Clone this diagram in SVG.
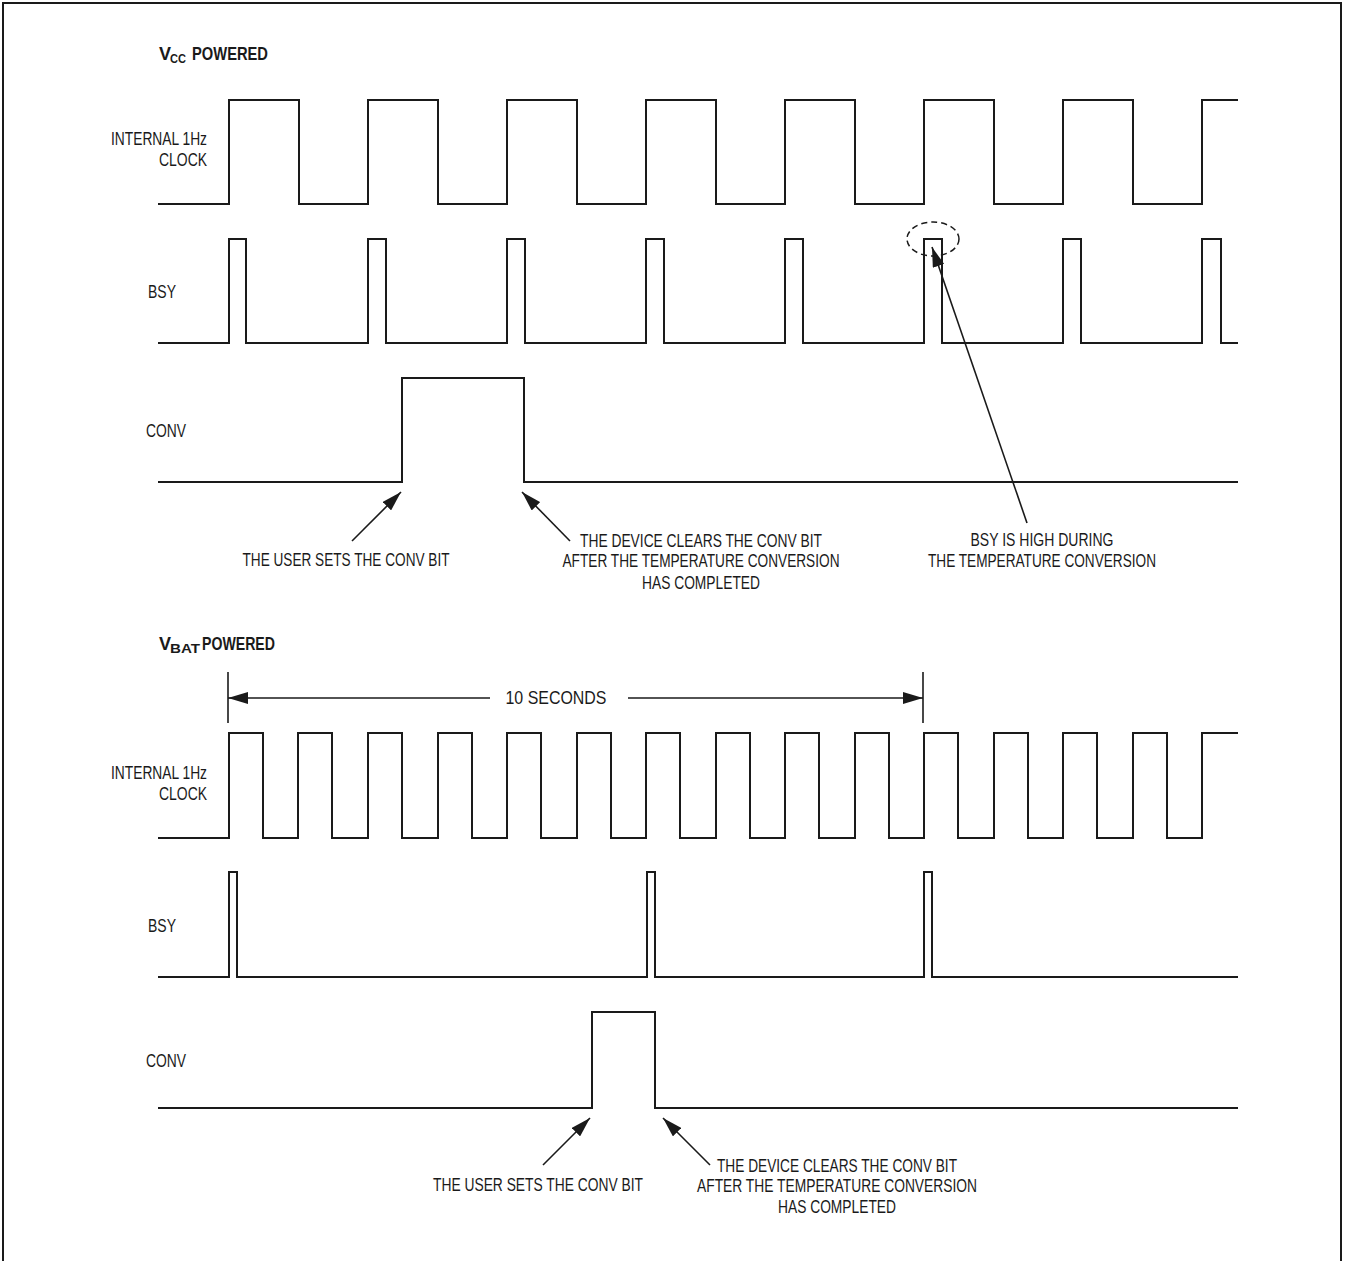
<svg xmlns="http://www.w3.org/2000/svg" width="1346" height="1261" viewBox="0 0 1346 1261">
<style>
.w{fill:none;stroke:#1a1a1a;stroke-width:2;stroke-linejoin:miter}
.t{font-family:"Liberation Sans",Arial,sans-serif;font-size:19px;fill:#1a1a1a}
.b{font-family:"Liberation Sans",Arial,sans-serif;font-weight:bold;fill:#1a1a1a}
.a{fill:none;stroke:#1a1a1a;stroke-width:1.6}
.c{text-anchor:middle}
</style>
<defs>
<marker id="ah" viewBox="0 0 20 12" refX="20" refY="6" markerWidth="20" markerHeight="12" markerUnits="userSpaceOnUse" orient="auto-start-reverse">
<path d="M0,0 L20,6 L0,12 z" fill="#1a1a1a"/>
</marker>
</defs>
<rect x="3" y="3" width="1338" height="1280" fill="#fff" stroke="#1a1a1a" stroke-width="2"/>

<g id="vcc-section">
<text class="b" y="60"><tspan x="159" font-size="18">V</tspan><tspan x="170" y="63" font-size="12.5" textLength="16" lengthAdjust="spacingAndGlyphs">CC</tspan><tspan x="192" y="60" font-size="18" textLength="76" lengthAdjust="spacingAndGlyphs">POWERED</tspan></text>

<g id="vcc-clock">
<text class="t" x="111" y="145" textLength="96" lengthAdjust="spacingAndGlyphs">INTERNAL 1Hz</text>
<text class="t" x="159" y="166" textLength="48" lengthAdjust="spacingAndGlyphs">CLOCK</text>
<path class="w" d="M158,204 H229 V100 H299 V204 H368 V100 H438 V204 H507 V100 H577 V204 H646 V100 H716 V204 H785 V100 H855 V204 H924 V100 H994 V204 H1063 V100 H1133 V204 H1202 V100 H1238"/>
</g>
<g id="vcc-bsy">
<text class="t" x="148" y="298" textLength="28" lengthAdjust="spacingAndGlyphs">BSY</text>
<path class="w" d="M158,343 H229 V239 H246 V343 H368 V239 H386 V343 H507 V239 H525 V343 H646 V239 H664 V343 H785 V239 H803 V343 H924 V239 H942 V343 H1063 V239 H1081 V343 H1202 V239 H1221 V343 H1238"/>
</g>
<g id="vcc-conv">
<text class="t" x="146" y="437" textLength="40" lengthAdjust="spacingAndGlyphs">CONV</text>
<path class="w" d="M158,482 H402 V378 H524 V482 H1238"/>
</g>
<g id="vcc-notes">
<text class="t c" x="346" y="566" textLength="207" lengthAdjust="spacingAndGlyphs">THE USER SETS THE CONV BIT</text>
<text class="t c" x="701" y="547" textLength="242" lengthAdjust="spacingAndGlyphs">THE DEVICE CLEARS THE CONV BIT</text>
<text class="t c" x="701" y="567" textLength="277" lengthAdjust="spacingAndGlyphs">AFTER THE TEMPERATURE CONVERSION</text>
<text class="t c" x="701" y="589" textLength="118" lengthAdjust="spacingAndGlyphs">HAS COMPLETED</text>
<text class="t c" x="1042" y="546" textLength="143" lengthAdjust="spacingAndGlyphs">BSY IS HIGH DURING</text>
<text class="t c" x="1042" y="567" textLength="228" lengthAdjust="spacingAndGlyphs">THE TEMPERATURE CONVERSION</text>
<ellipse cx="933" cy="239" rx="26" ry="17" fill="none" stroke="#1a1a1a" stroke-width="1.5" stroke-dasharray="6 4"/>
</g>
</g>

<g id="vbat-section">
<text class="b" y="650"><tspan x="159" font-size="18">V</tspan><tspan x="170" y="653" font-size="12.5" textLength="30" lengthAdjust="spacingAndGlyphs">BAT</tspan><tspan x="202" y="650" font-size="18" textLength="73" lengthAdjust="spacingAndGlyphs">POWERED</tspan></text>

<g id="vbat-dimension">
<line class="a" x1="228" y1="672" x2="228" y2="723"/>
<line class="a" x1="923" y1="672" x2="923" y2="723"/>
<text class="t c" x="556" y="704" textLength="101" lengthAdjust="spacingAndGlyphs">10 SECONDS</text>
</g>
<g id="vbat-clock">
<text class="t" x="111" y="779" textLength="96" lengthAdjust="spacingAndGlyphs">INTERNAL 1Hz</text>
<text class="t" x="159" y="800" textLength="48" lengthAdjust="spacingAndGlyphs">CLOCK</text>
<path class="w" d="M158,838 H229 V733 H263 V838 H298 V733 H332 V838 H368 V733 H402 V838 H438 V733 H472 V838 H507 V733 H541 V838 H577 V733 H611 V838 H646 V733 H680 V838 H716 V733 H750 V838 H785 V733 H819 V838 H855 V733 H889 V838 H924 V733 H958 V838 H994 V733 H1028 V838 H1063 V733 H1097 V838 H1133 V733 H1167 V838 H1202 V733 H1238"/>
</g>
<g id="vbat-bsy">
<text class="t" x="148" y="932" textLength="28" lengthAdjust="spacingAndGlyphs">BSY</text>
<path class="w" d="M158,977 H229 V872 H237 V977 H647 V872 H655 V977 H924 V872 H932 V977 H1238"/>
</g>
<g id="vbat-conv">
<text class="t" x="146" y="1067" textLength="40" lengthAdjust="spacingAndGlyphs">CONV</text>
<path class="w" d="M158,1108 H592 V1012 H655 V1108 H1238"/>
</g>
<g id="vbat-notes">
<text class="t c" x="538" y="1191" textLength="210" lengthAdjust="spacingAndGlyphs">THE USER SETS THE CONV BIT</text>
<text class="t c" x="837" y="1172" textLength="240" lengthAdjust="spacingAndGlyphs">THE DEVICE CLEARS THE CONV BIT</text>
<text class="t c" x="837" y="1192" textLength="280" lengthAdjust="spacingAndGlyphs">AFTER THE TEMPERATURE CONVERSION</text>
<text class="t c" x="837" y="1213" textLength="118" lengthAdjust="spacingAndGlyphs">HAS COMPLETED</text>
</g>
</g>

<g id="connectors">
<line class="a" x1="352" y1="541" x2="401" y2="492" marker-end="url(#ah)"/>
<line class="a" x1="570" y1="541" x2="522" y2="492" marker-end="url(#ah)"/>
<line class="a" x1="1027" y1="523" x2="932" y2="247" marker-end="url(#ah)"/>
<line class="a" x1="490" y1="698" x2="228" y2="698" marker-end="url(#ah)"/>
<line class="a" x1="628" y1="698" x2="923" y2="698" marker-end="url(#ah)"/>
<line class="a" x1="543" y1="1165" x2="590" y2="1118" marker-end="url(#ah)"/>
<line class="a" x1="710" y1="1165" x2="663" y2="1118" marker-end="url(#ah)"/>
</g>
</svg>
